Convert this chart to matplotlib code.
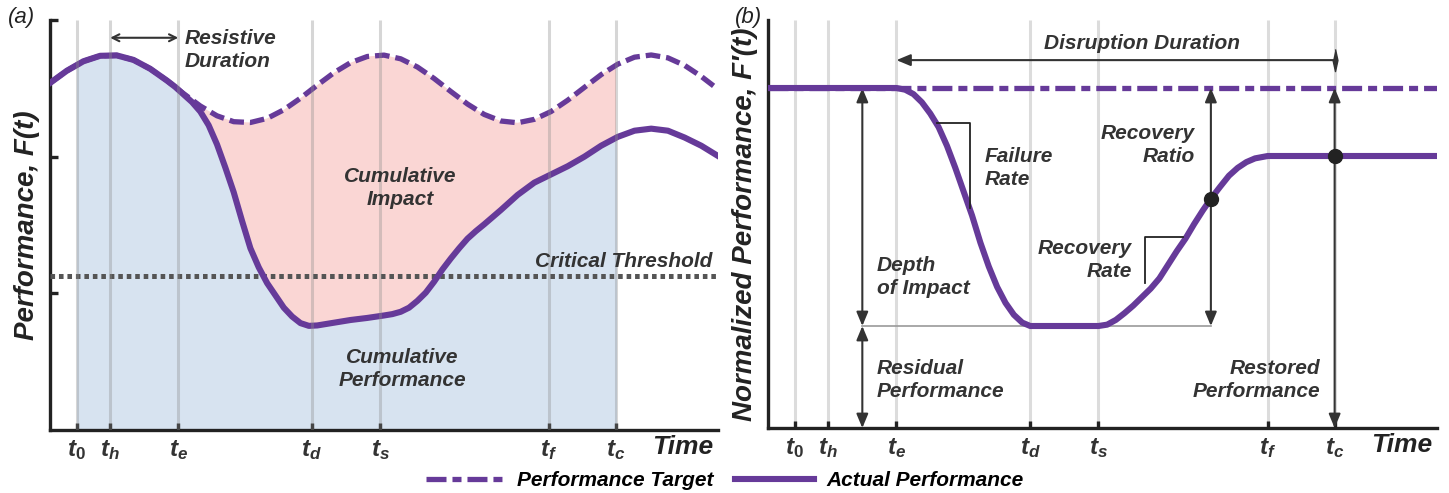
import numpy as np
import matplotlib
matplotlib.use('Agg')
import matplotlib.pyplot as plt
from matplotlib.patches import Rectangle
from matplotlib.lines import Line2D

plt.rcParams['font.family'] = ['Liberation Sans', 'DejaVu Sans']
plt.rcParams['mathtext.fontset'] = 'custom'
plt.rcParams['mathtext.it'] = 'Liberation Sans:italic:bold'
plt.rcParams['mathtext.rm'] = 'Liberation Sans:bold'
plt.rcParams['lines.scale_dashes'] = False

purple = '#663a99'
txt = '#333333'
dark = '#222222'

# time marks, shared by both panels
tick_labels = [r'$\mathit{t_0}$', r'$\mathit{t_h}$', r'$\mathit{t_e}$', r'$\mathit{t_d}$',
               r'$\mathit{t_s}$', r'$\mathit{t_f}$', r'$\mathit{t_c}$']
tick_x = [0.40, 0.90, 1.92, 3.92, 4.94, 7.47, 8.47]
t0, th, te, td, ts, tf, tc = tick_x

# panel (a): performance target, read every 0.25 time units
a_tx = np.arange(41) * 0.25
a_target = [2.539, 2.628, 2.698, 2.738, 2.741, 2.708, 2.643, 2.557, 2.461, 2.371,
            2.299, 2.256, 2.250, 2.280, 2.343, 2.428, 2.523, 2.614, 2.688, 2.733,
            2.743, 2.716, 2.656, 2.572, 2.477, 2.385, 2.309, 2.261, 2.248, 2.273,
            2.330, 2.413, 2.507, 2.600, 2.677, 2.728, 2.744, 2.723, 2.668, 2.587,
            2.493]
# panel (a): actual performance
a_ax = [0.0, 0.25, 0.5, 0.75, 1.0, 1.25, 1.5, 1.75, 1.875, 2.0, 2.125, 2.25, 2.375,
        2.5, 2.625, 2.75, 2.875, 3.0, 3.125, 3.25, 3.375, 3.5, 3.625, 3.75, 3.875,
        4.0, 4.25, 4.5, 4.75, 5.0, 5.125, 5.25, 5.375, 5.5, 5.625, 5.75, 5.875, 6.0,
        6.125, 6.25, 6.375, 6.5, 6.75, 7.0, 7.25, 7.5, 7.75, 8.0, 8.25, 8.5, 8.75,
        9.0, 9.25, 9.5, 9.75, 10.0]
a_actual = [2.539, 2.628, 2.698, 2.738, 2.741, 2.708, 2.643, 2.557, 2.51, 2.455,
            2.40, 2.33, 2.23, 2.09, 1.92, 1.74, 1.53, 1.33, 1.19, 1.075, 0.985,
            0.895, 0.83, 0.782, 0.762, 0.765, 0.785, 0.805, 0.82, 0.838, 0.848, 0.865,
            0.895, 0.945, 1.005, 1.085, 1.175, 1.255, 1.33, 1.40, 1.455, 1.505, 1.61,
            1.72, 1.81, 1.87, 1.93, 2.00, 2.08, 2.145, 2.19, 2.205, 2.19, 2.14,
            2.08, 2.005]
threshold = 1.13

# panel (b): normalized performance
b_x = [0.0, 1.92, 2.05, 2.175, 2.30, 2.425, 2.55, 2.675, 2.80, 2.925, 3.05, 3.175,
       3.30, 3.425, 3.55, 3.675, 3.80, 3.92, 4.94, 5.07, 5.20, 5.33, 5.46, 5.59,
       5.72, 5.85, 5.98, 6.11, 6.24, 6.37, 6.50, 6.63, 6.76, 6.89, 7.02, 7.15, 7.28,
       7.47, 10.0]
b_actual = [1.0, 1.0, 0.995, 0.982, 0.958, 0.925, 0.885, 0.83, 0.765, 0.695, 0.625,
            0.545, 0.475, 0.415, 0.368, 0.333, 0.31, 0.30, 0.30, 0.304, 0.318, 0.338,
            0.36, 0.385, 0.41, 0.44, 0.48, 0.52, 0.557, 0.60, 0.64, 0.677, 0.71,
            0.742, 0.765, 0.782, 0.793, 0.80, 0.80]
b_target = 1.0
residual = 0.30
restored = 0.80
ratio_x = 6.62
ratio_y = 0.674
depth_x = 1.41
duration_y = 1.082

fig = plt.figure(figsize=(14.49, 4.93), dpi=100)
ax_a = fig.add_axes([50 / 1449, 1 - 430 / 493, 668 / 1449, 410 / 493])
ax_b = fig.add_axes([768 / 1449, 1 - 428 / 493, 669 / 1449, 408 / 493])


def style_axes(ax, ymax, yticks):
    ax.set_xlim(0, 10)
    ax.set_ylim(0, ymax)
    for s in ['top', 'right']:
        ax.spines[s].set_visible(False)
    for s in ['left', 'bottom']:
        ax.spines[s].set_linewidth(2.4)
        ax.spines[s].set_color(dark)
    ax.set_xticks(tick_x)
    ax.set_xticklabels(tick_labels)
    ax.set_yticks(yticks)
    ax.set_yticklabels([])
    ax.tick_params(axis='x', direction='in', length=5, width=2.4, color=dark,
                   pad=6, labelsize=17.5, labelcolor=txt)
    ax.tick_params(axis='y', direction='in', length=6, width=2.4, color=dark)
    ax.text(0.993, -0.042, 'Time', transform=ax.transAxes, ha='right', va='center',
            fontsize=19, fontweight='bold', style='italic', color=dark)


def note(ax, x, y, s, ha='center'):
    ax.text(x, y, s, ha=ha, va='center', fontsize=15, fontweight='bold',
            style='italic', color=txt, linespacing=1.3, zorder=8)


# ---- panel (a)
ax = ax_a
style_axes(ax, 3, [1, 2, 3])
blue = ax.fill_between(a_ax, 0, a_actual, color='#d7e3f0', lw=0, zorder=1)
blue.set_clip_path(Rectangle((t0, 0), tc - t0, 3, transform=ax.transData))
red = ax.fill(np.r_[a_ax, a_tx[::-1]], np.r_[a_actual, a_target[::-1]],
              color='#fad6d4', lw=0, zorder=1)[0]
red.set_clip_path(Rectangle((te, 0), tc - te, 3, transform=ax.transData))
ax.plot([0, 10], [threshold, threshold], color='#555555', lw=3.6,
        dashes=(3.3, 2.8), zorder=3)
ax.plot(a_tx, a_target, color=purple, lw=3.8, dashes=(10.5, 4.3), zorder=4)
ax.plot(a_ax, a_actual, color=purple, lw=4.4, solid_joinstyle='round', zorder=5)
ax.vlines(tick_x, 0, 3, color='#8c8c8c', alpha=0.35, lw=2.2, zorder=6)
ax.annotate('', xy=(te, 2.87), xytext=(th, 2.87),
            arrowprops=dict(arrowstyle='<->,head_length=0.5,head_width=0.25',
                            color=txt, lw=1.5, shrinkA=0, shrinkB=0))
note(ax, 2.02, 2.78, 'Resistive\nDuration', ha='left')
note(ax, 5.24, 1.77, 'Cumulative\nImpact')
note(ax, 9.92, 1.23, 'Critical Threshold', ha='right')
note(ax, 5.28, 0.445, 'Cumulative\nPerformance')
ax.set_ylabel('Performance, F(t)', fontsize=20, fontweight='bold', style='italic',
              color=dark, labelpad=4)

# ---- panel (b)
ax = ax_b
style_axes(ax, 1.2, [1.0])
ax.vlines(tick_x, 0, 1.2, color='#8c8c8c', alpha=0.3, lw=2.2, zorder=1)
ax.plot([0, 10], [b_target, b_target], color=purple, lw=3.8,
        dashes=(14.4, 4.3, 6.5, 4.3), zorder=3)
ax.plot(b_x, b_actual, color=purple, lw=4.4, solid_joinstyle='round', zorder=4)
ax.plot([depth_x, ratio_x], [residual, residual], color='#999999', lw=1.2, zorder=2)

arrow = dict(arrowstyle='<|-|>,head_length=0.6,head_width=0.25', color=txt, lw=1.5,
             mutation_scale=14, shrinkA=0, shrinkB=0)
ax.annotate('', xy=(depth_x, b_target), xytext=(depth_x, residual), arrowprops=arrow)
ax.annotate('', xy=(depth_x, residual), xytext=(depth_x, 0), arrowprops=arrow)
ax.annotate('', xy=(ratio_x, b_target), xytext=(ratio_x, residual), arrowprops=arrow)
ax.annotate('', xy=(tc, b_target), xytext=(tc, 0), arrowprops=arrow)
ax.annotate('', xy=(te, duration_y), xytext=(tc, duration_y),
            arrowprops=dict(arrowstyle='-|>,head_length=0.6,head_width=0.25', color=txt,
                            lw=1.5, mutation_scale=14, shrinkA=0, shrinkB=0))
ax.plot([tc], [duration_y], marker=[(0, 1), (0.22, 0), (0, -1), (-0.22, 0)],
        ms=16, color=txt, zorder=6)

# slope brackets
ax.plot([2.53, 3.02, 3.02], [0.897, 0.897, 0.647], color=dark, lw=1.3, zorder=5)
ax.plot([6.2, 5.64, 5.64], [0.562, 0.562, 0.426], color=dark, lw=1.3, zorder=5)

ax.plot([ratio_x, tc], [ratio_y, restored], 'o', color=dark, ms=10, zorder=7)

note(ax, 5.59, 1.13, 'Disruption Duration')
note(ax, 3.24, 0.765, 'Failure\nRate', ha='left')
note(ax, 5.44, 0.494, 'Recovery\nRate', ha='right')
note(ax, 6.38, 0.832, 'Recovery\nRatio', ha='right')
note(ax, 1.63, 0.444, 'Depth\nof Impact', ha='left')
note(ax, 1.63, 0.141, 'Residual\nPerformance', ha='left')
note(ax, 8.25, 0.141, 'Restored\nPerformance', ha='right')
ax.set_ylabel('Normalized Performance, F\u2032(t)', fontsize=20, fontweight='bold',
              style='italic', color=dark, labelpad=4)

fig.text(8 / 1449, 1 - 18 / 493, '(a)', fontsize=16, style='italic', va='center', color=dark)
fig.text(735 / 1449, 1 - 18 / 493, '(b)', fontsize=16, style='italic', va='center', color=dark)

handles = [Line2D([], [], color=purple, lw=3.8, dashes=(14.4, 4.3, 6.5, 4.3)),
           Line2D([], [], color=purple, lw=4.4)]
fig.legend(handles, ['Performance Target', 'Actual Performance'], loc='center',
           bbox_to_anchor=(0.5, 0.025), ncol=2, frameon=False, handlelength=3.8,
           columnspacing=1.0, handletextpad=0.6,
           prop=dict(weight='bold', style='italic', size=15))

fig.savefig('out.png', dpi=100)
